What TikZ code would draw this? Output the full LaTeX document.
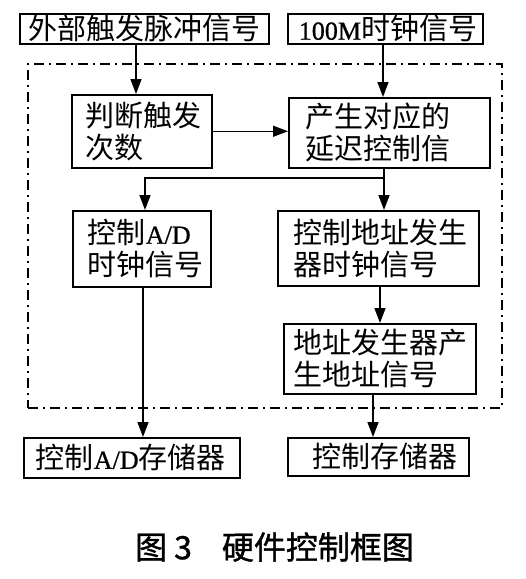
\documentclass[tikz,border=0pt]{standalone}
\usepackage{fontspec}
\setmainfont{Noto Sans CJK SC}
\newfontfamily\lat{Liberation Serif}[Scale=0.9,FakeBold=0.8]
\newfontfamily\capfont{Noto Sans CJK SC}[FakeBold=1.2]
\usetikzlibrary{arrows.meta}
\begin{document}
\begin{tikzpicture}[x=1pt,y=-1pt,
  box/.style={draw, line width=1.5pt, align=left, inner ysep=0pt, anchor=north west,
    font=\fontsize{29}{32}\selectfont},
  arr/.style={line width=1.5pt, -{Triangle[length=15pt,width=11pt]}},
  zone/.style={draw, line width=1.5pt, dash pattern=on 10pt off 5pt on 2pt off 5pt}]
\useasboundingbox (0,0) rectangle (526,579);
\node[zone, anchor=north west, minimum width=474pt, minimum height=344pt, inner sep=0pt] (frame) at (27,63) {};
\node[box, text width=231pt, inner xsep=9pt, minimum height=30pt] (A) at (19,13) {外部触发脉冲信号};
\node[box, text width=173pt, inner xsep=11pt, minimum height=30pt] (B) at (287,13) {{\lat 100M}时钟信号};
\node[box, text width=112pt, inner xsep=14pt, minimum height=73pt] (C) at (71,94) {判断触发\\次数};
\node[box, text width=167pt, inner xsep=17pt, minimum height=70pt] (D) at (288,97) {产生对应的\\延迟控制信};
\node[box, text width=108pt, inner xsep=15pt, minimum height=76pt] (E) at (72,210) {控制{\lat A/D}\\时钟信号};
\node[box, text width=169pt, inner xsep=16pt, minimum height=75pt] (F) at (277,210) {控制地址发生\\器时钟信号};
\node[box, text width=172pt, inner xsep=10pt, minimum height=70pt] (G) at (283,323) {地址发生器产\\生地址信号};
\node[box, text width=192pt, inner xsep=12pt, minimum height=40pt] (H) at (23,437) {控制{\lat A/D}存储器};
\node[box, text width=131pt, inner xsep=25pt, minimum height=38pt] (I) at (287,437) {控制存储器};
\node[anchor=west, inner sep=0pt, font=\fontsize{32}{34}\selectfont\capfont] (cap) at (135,547) {图\hspace{7pt}3\hspace{30pt}硬件控制框图};
\coordinate (xa) at (136,0);
\coordinate (xb) at (383,0);
\coordinate (split) at (384,178);
\coordinate (xe) at (145,0);
\coordinate (xf) at (380,0);
\coordinate (xh) at (143,0);
\coordinate (xi) at (373,0);
\draw[arr] (A.south -| xa) -- (C.north -| xa);
\draw[arr] (B.south -| xb) -- (D.north -| xb);
\draw[arr] (C.east) -- (D.west |- C.east);
\draw[arr] (D.south -| split) -- (F.north -| split);
\draw[arr] (split) -| (E.north -| xe);
\draw[arr] (F.south -| xf) -- (G.north -| xf);
\draw[arr] (E.south -| xh) -- (H.north -| xh);
\draw[arr] (G.south -| xi) -- (I.north -| xi);
\end{tikzpicture}
\end{document}
